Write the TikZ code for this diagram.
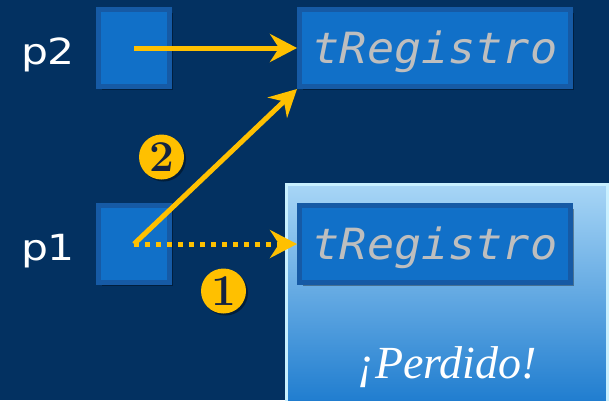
\documentclass[tikz,border=0pt]{standalone}
\usepackage{fontspec}
\usetikzlibrary{arrows.meta,shadows}

\newfontfamily\labelfont[FakeStretch=1.18]{DejaVu Sans}
\newfontfamily\regfont[FakeStretch=1.05]{DejaVu Sans Mono Oblique}
\newfontfamily\lostfont{Liberation Serif Italic}

\definecolor{bgnavy}{RGB}{3,49,97}
\definecolor{boxfill}{RGB}{17,112,200}
\definecolor{boxedge}{RGB}{22,90,165}
\definecolor{gold}{RGB}{255,192,0}
\definecolor{regtext}{RGB}{190,190,190}
\definecolor{paneltop}{RGB}{168,214,246}
\definecolor{panelbot}{RGB}{24,120,205}
\definecolor{panelrim}{RGB}{200,240,255}
\definecolor{badgeink}{RGB}{20,35,65}

\tikzset{
  membox/.style={draw=boxedge, line width=5pt, fill=boxfill, inner sep=0pt,
    minimum height=77pt,
    drop shadow={shadow xshift=3pt, shadow yshift=-3pt, opacity=0.35, fill=black}},
  ptrbox/.style={membox, minimum width=71pt},
  regbox/.style={membox, minimum width=271pt, text=regtext,
    font=\regfont\fontsize{43}{43}\selectfont, text height=31pt, text depth=0pt},
  ptrlabel/.style={text=white, font=\labelfont\fontsize{36}{36}\selectfont,
    anchor=base, inner sep=0pt},
  badge/.style={circle, fill=gold, minimum size=45pt, inner sep=0pt,
    text=badgeink, font=\bfseries\fontsize{44}{44}\selectfont,
    text height=28pt, text depth=0pt,
    drop shadow={shadow xshift=2pt, shadow yshift=-2pt, opacity=0.4, fill=black}},
  link/.style={draw=gold, line width=5pt,
    -{Stealth[length=27pt, width=28pt, inset=9pt]}},
  panel/.style={draw=panelrim, line width=2.5pt, top color=paneltop,
    bottom color=panelbot, inner sep=0pt, anchor=north west},
}

\begin{document}
\begin{tikzpicture}[x=1pt, y=-1pt]
  \useasboundingbox (0,0) rectangle (609,400);
  \clip (0,0) rectangle (609,400);
  \fill[bgnavy] (0,0) rectangle (609,400);

  % light panel holding the lost record
  \node[panel, minimum width=321pt, minimum height=230pt] (lost) at (285,183) {};
  \node[text=white, font=\lostfont\fontsize{46}{46}\selectfont, anchor=base,
        inner sep=0pt] (lostlabel) at (447,378) {¡Perdido!};

  % pointer variables
  \node[ptrlabel] (lp2) at (48,64) {p2};
  \node[ptrlabel] (lp1) at (48,260) {p1};
  \node[ptrbox] (p2) at (134,48) {};
  \node[ptrbox] (p1) at (134,244) {};

  % dynamic records
  \node[regbox] (reg2) at (435,48) {tRegistro};
  \node[regbox] (reg1) at (435,244) {tRegistro};

  % pointers
  \draw[link] (p2.center) -- (reg2.west);
  \draw[link, line cap=butt, dash pattern=on 5pt off 6pt] (p1.center) -- (reg1.west);
  \draw[link] (p1.center) -- (reg2.south west);

  % step markers
  \node[badge] (s2) at (161.5,157) {2};
  \node[badge] (s1) at (223.5,291) {1};
\end{tikzpicture}
\end{document}
